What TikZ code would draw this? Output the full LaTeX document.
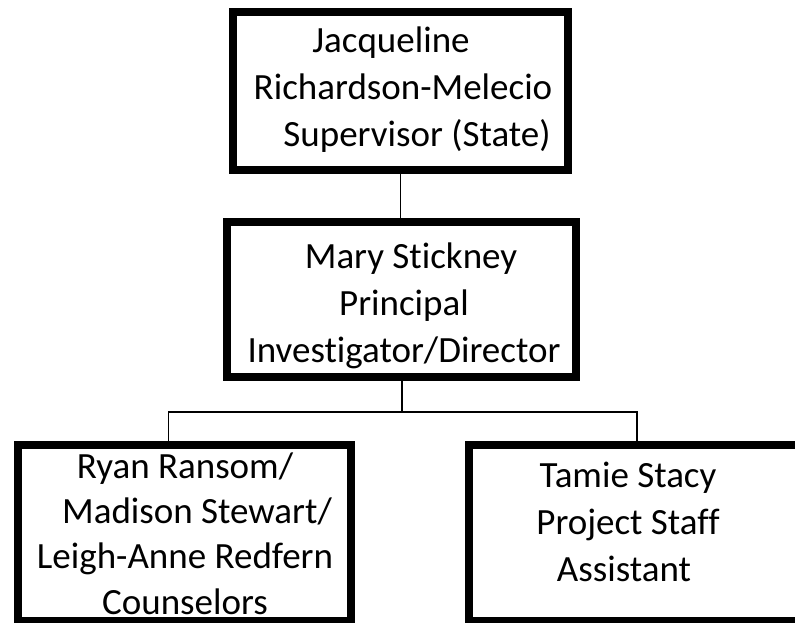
\documentclass[tikz,border=0pt]{standalone}
\usepackage{fontspec}
\setmainfont{Carlito}[Ligatures=NoCommon]
\tikzset{
  personbox/.style={draw, line width=6pt, rectangle, inner sep=0pt},
  names/.style={inner sep=0pt, align=center, font=\fontsize{27.75}{35.25}\selectfont},
  link/.style={line width=1pt}
}
\begin{document}
\begin{tikzpicture}[x=0.75pt, y=-0.75pt]
      \useasboundingbox (0,0) rectangle (795,622);
      \node[personbox, minimum width=251.25pt, minimum height=118.5pt] (super) at (400.5, 91) {};
      \node[personbox, minimum width=261.4pt, minimum height=116.6pt] (pi) at (401.75, 299.75) {};
      \node[personbox, minimum width=250.1pt, minimum height=132pt] (couns) at (184.25, 533) {};
      \node[personbox, minimum width=263.25pt, minimum height=132pt] (staff) at (644.5, 533) {};
      \node[names] (supertext) at (403, 89.5)
        {Jacqueline\hspace*{18pt}\\Richardson-Melecio\\\hspace*{21pt}Supervisor (State)};
      \node[names] (pitext) at (404, 306)
        {\hspace*{10.5pt}Mary Stickney\\Principal\hspace*{7.5pt}\\Investigator/Director};
      \node[names, font=\fontsize{27.75}{34.1}\selectfont] (counstext) at (185, 533.5)
        {Ryan Ransom/\\\hspace*{18pt}Madison Stewart/\\Leigh-Anne Redfern\\Counselors};
      \node[names] (stafftext) at (628, 522)
        {Tamie Stacy\\Project Staff\\Assistant\hspace*{6pt}};
      \coordinate (bus) at (402, 412);
      \coordinate (busl) at (168.5, 412);
      \coordinate (busr) at (637, 412);
      \draw[link] (super.south -| 400.7,0) -- (pi.north -| 400.7,0);
      \draw[link] (pi.south -| bus) -- (bus);
      \draw[link] (busl |- couns.north) -- (busl) -- (busr) -- (busr |- staff.north);
\end{tikzpicture}
\end{document}
